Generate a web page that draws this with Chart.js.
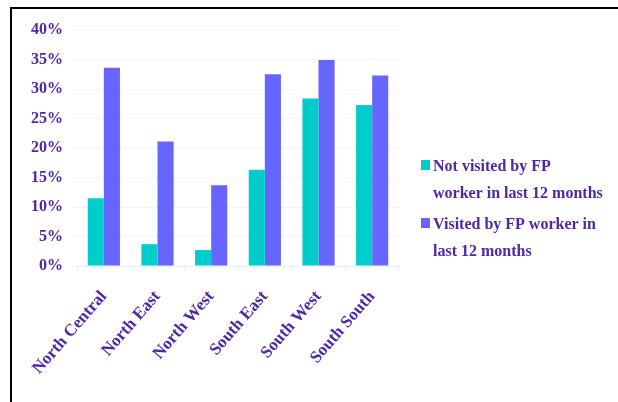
<!DOCTYPE html>
<html>
<head>
<meta charset="utf-8">
<script src="https://cdn.jsdelivr.net/npm/chart.js"></script>
<style>
  html, body { margin: 0; padding: 0; background: #fff; }
  #wrap { position: relative; width: 618px; height: 402px; }
</style>
</head>
<body>
<div id="wrap">
  <canvas id="visitsChart" width="618" height="402"></canvas>
</div>

<script>
  // regions on the x axis
  const regions = ['North Central', 'North East', 'North West', 'South East', 'South West', 'South South'];

  // share of women (%) by FP worker visit status
  const notVisited = [11.5, 3.7, 2.7, 16.3, 28.4, 27.3];
  const visited = [33.6, 21.1, 13.7, 32.5, 34.9, 32.3];

  // legend text, split over two lines each
  const seriesNames = [
    ['Not visited by FP', 'worker in last 12 months'],
    ['Visited by FP worker in', 'last 12 months']
  ];

  const yTicks = [0, 5, 10, 15, 20, 25, 30, 35, 40];

  const textColor = '#4f27a8';
  const serif = '"Liberation Serif", "Times New Roman", serif';

  // frame: only top and left edges are drawn
  const framePlugin = {
    id: 'frame',
    afterDraw(chart) {
      const ctx = chart.ctx;
      ctx.save();
      ctx.strokeStyle = '#000';
      ctx.lineWidth = 2;
      ctx.beginPath();
      ctx.moveTo(11, 402);
      ctx.lineTo(11, 8);
      ctx.lineTo(618, 8);
      ctx.stroke();
      ctx.restore();
    }
  };

  // legend on the right with wrapped lines
  const sideLegend = {
    id: 'sideLegend',
    afterDraw(chart) {
      const ctx = chart.ctx;
      const x = 421, lineGap = 27;
      const tops = [160, 218];
      ctx.save();
      ctx.font = 'bold 16px ' + serif;
      ctx.textBaseline = 'alphabetic';
      chart.data.datasets.forEach((ds, i) => {
        ctx.fillStyle = ds.backgroundColor;
        ctx.fillRect(x, tops[i], 9, 10);
        ctx.fillStyle = textColor;
        seriesNames[i].forEach((line, j) => {
          ctx.fillText(line, x + 12, tops[i] + 11 + j * lineGap);
        });
      });
      ctx.restore();
    }
  };

  new Chart(document.getElementById('visitsChart'), {
    type: 'bar',
    data: {
      labels: regions,
      datasets: [{
        label: seriesNames[0].join(' '),
        data: notVisited,
        backgroundColor: '#00cccc'
      }, {
        label: seriesNames[1].join(' '),
        data: visited,
        backgroundColor: '#6666ff'
      }]
    },
    options: {
      responsive: false,
      animation: false,
      layout: { padding: { left: 0, top: 30, right: 219, bottom: 0 } },
      datasets: { bar: { categoryPercentage: 0.6, barPercentage: 1.0 } },
      plugins: { legend: { display: false }, tooltip: { enabled: false } },
      scales: {
        x: {
          afterFit(scale) { scale.height = 136; },
          grid: { drawOnChartArea: false, color: '#eceef6', tickLength: 5 },
          border: { color: '#eceef6' },
          ticks: {
            color: textColor,
            font: { family: serif, size: 17, weight: 'bold' },
            minRotation: 49,
            maxRotation: 49,
            padding: 16
          }
        },
        y: {
          min: 0,
          max: 40,
          afterFit(scale) { scale.width = 77; },
          afterBuildTicks(scale) { scale.ticks = yTicks.map(v => ({ value: v })); },
          grid: { color: '#f2f2f7', tickLength: 6 },
          border: { display: false },
          ticks: {
            color: textColor,
            font: { family: serif, size: 16, weight: 'bold' },
            padding: 8,
            callback: v => v + '%'
          }
        }
      }
    },
    plugins: [framePlugin, sideLegend]
  });
</script>
</body>
</html>
